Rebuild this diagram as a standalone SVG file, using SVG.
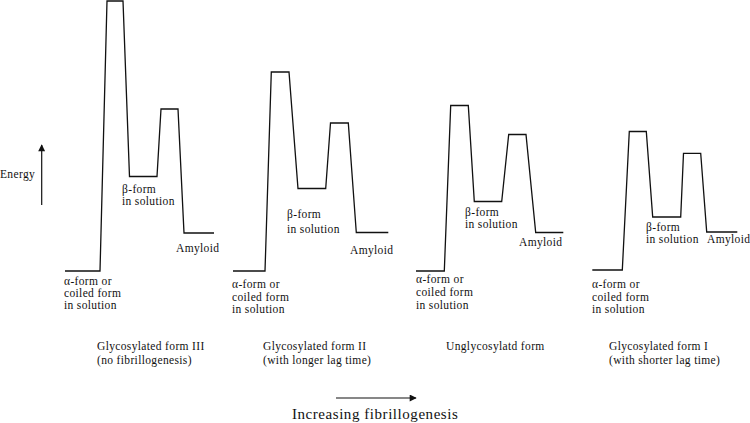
<svg xmlns="http://www.w3.org/2000/svg" width="750" height="423" viewBox="0 0 750 423">
<defs>
<marker id="ah" viewBox="0 0 10 10" refX="9" refY="5" markerWidth="8" markerHeight="7" markerUnits="userSpaceOnUse" orient="auto">
<path d="M0,0 L10,5 L0,10 z" fill="#111"/>
</marker>
</defs>
<style>
.p{fill:none;stroke:#111;stroke-width:1.3;stroke-linejoin:miter}
text{font-family:'Liberation Serif','DejaVu Serif',serif;font-size:11.5px;letter-spacing:0.35px;fill:#111}
.big{font-size:15px;letter-spacing:0.55px}
.ax{stroke:#111;stroke-width:1.2;fill:none}
</style>
<rect width="750" height="423" fill="#fff"/>
<g id="profile-III">
<path class="p" d="M65,271 H100 L107,1 H123 L129.5,176.5 H157 L161,109 H178 L184,233 H214"/>
<text x="64" y="285">α-form or</text>
<text x="64" y="297">coiled form</text>
<text x="64" y="309">in solution</text>
<text x="122" y="193">β-form</text>
<text x="122" y="205">in solution</text>
<text x="176" y="252">Amyloid</text>
<text x="97" y="349.5">Glycosylated form III</text>
<text x="97" y="363.5">(no fibrillogenesis)</text>
</g>
<g id="profile-II">
<path class="p" d="M233,271 H265 L271.3,72 H289 L298,188.5 H325.7 L330.5,123 H348.3 L356.3,232.5 H388.3"/>
<text x="232" y="288">α-form or</text>
<text x="232" y="300.5">coiled form</text>
<text x="232" y="313">in solution</text>
<text x="287" y="218">β-form</text>
<text x="287" y="232.5">in solution</text>
<text x="350" y="254">Amyloid</text>
<text x="263" y="349.5">Glycosylated form II</text>
<text x="263" y="363.5">(with longer lag time)</text>
</g>
<g id="profile-unglycosylated">
<path class="p" d="M416,271 H444.3 L450.7,105.5 H468.3 L474.3,201.5 H501.7 L508.7,134.5 H526 L535.7,232.5 H563.3"/>
<text x="416" y="282.5">α-form or</text>
<text x="416" y="296">coiled form</text>
<text x="416" y="309">in solution</text>
<text x="465" y="216">β-form</text>
<text x="465" y="228">in solution</text>
<text x="519" y="246">Amyloid</text>
<text x="446" y="349.5">Unglycosylatd form</text>
</g>
<g id="profile-I">
<path class="p" d="M592.3,270 H622.3 L629.3,131.5 H646.3 L652.7,217 H680.7 L683.5,153.3 H700.7 L706.7,232 H737.3"/>
<text x="592" y="288">α-form or</text>
<text x="592" y="300.5">coiled form</text>
<text x="592" y="313">in solution</text>
<text x="646" y="231">β-form</text>
<text x="646" y="243">in solution</text>
<text x="707" y="243">Amyloid</text>
<text x="609" y="349.5">Glycosylated form I</text>
<text x="609" y="363.5">(with shorter lag time)</text>
</g>
<g id="connectors">
<line class="ax" x1="41.7" y1="205" x2="41.7" y2="145" marker-end="url(#ah)"/>
<line class="ax" x1="336" y1="398" x2="416" y2="398" marker-end="url(#ah)"/>
</g>
<g id="axis-labels">
<text x="0" y="178">Energy</text>
<text class="big" x="292" y="419">Increasing fibrillogenesis</text>
</g>
</svg>
